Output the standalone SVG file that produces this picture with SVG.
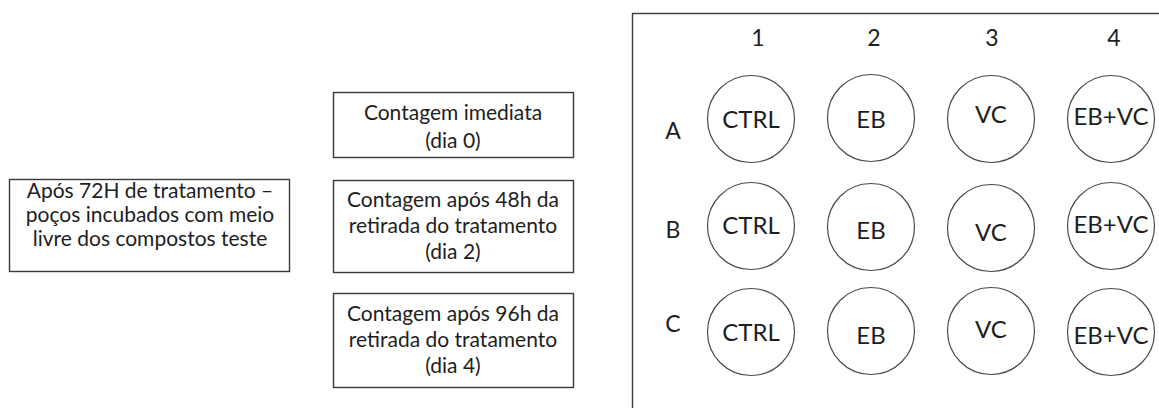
<svg xmlns="http://www.w3.org/2000/svg" width="1159" height="408" viewBox="0 0 1159 408">
<style>
  .box { fill: #ffffff; stroke: #3a3a3a; stroke-width: 1.4; }
  .well { fill: #ffffff; stroke: #4a4a4a; stroke-width: 1.2; }
  .t { font-family: Lato, "Liberation Sans", sans-serif; fill: #1e1e1e; text-anchor: middle; }
  .bt { font-size: 21px; }
  .pl { font-size: 23px; }
  .wt { font-size: 24px; }
</style>
<rect width="1159" height="408" fill="#ffffff"/>
<g id="treatment">
  <rect class="box" x="9.5" y="179.5" width="280" height="92"/>
  <text class="t bt" x="150" y="198">Após 72H de tratamento –</text>
  <text class="t bt" x="150" y="222">poços incubados com meio</text>
  <text class="t bt" x="150" y="246">livre dos compostos teste</text>
</g>
<g id="day0">
  <rect class="box" x="333.5" y="92.5" width="240" height="65"/>
  <text class="t bt" x="453" y="120">Contagem imediata</text>
  <text class="t bt" x="453" y="148">(dia 0)</text>
</g>
<g id="day2">
  <rect class="box" x="333.5" y="180.5" width="240" height="92"/>
  <text class="t bt" x="453" y="207">Contagem após 48h da</text>
  <text class="t bt" x="453" y="233">retirada do tratamento</text>
  <text class="t bt" x="453" y="259">(dia 2)</text>
</g>
<g id="day4">
  <rect class="box" x="333.5" y="293.5" width="240" height="94"/>
  <text class="t bt" x="453" y="321">Contagem após 96h da</text>
  <text class="t bt" x="453" y="347">retirada do tratamento</text>
  <text class="t bt" x="453" y="373">(dia 4)</text>
</g>
<g id="plate">
  <rect class="box" x="632.5" y="13.5" width="560" height="420"/>
  <text class="t pl" x="758" y="46">1</text>
  <text class="t pl" x="874" y="46">2</text>
  <text class="t pl" x="992" y="46">3</text>
  <text class="t pl" x="1114" y="46">4</text>
  <text class="t pl" x="673" y="139">A</text>
  <text class="t pl" x="673" y="238">B</text>
  <text class="t pl" x="673" y="332">C</text>
</g>
<g id="wellA1"><circle class="well" cx="751" cy="119" r="43.5"/><text class="t wt" x="751" y="128">CTRL</text></g>
<g id="wellA2"><circle class="well" cx="871" cy="118" r="43.5"/><text class="t wt" x="871" y="128">EB</text></g>
<g id="wellA3"><circle class="well" cx="991" cy="119" r="43.5"/><text class="t wt" x="991" y="123">VC</text></g>
<g id="wellA4"><circle class="well" cx="1111" cy="119" r="43.5"/><text class="t wt" x="1111" y="125">EB+VC</text></g>
<g id="wellB1"><circle class="well" cx="751" cy="226" r="43.5"/><text class="t wt" x="751" y="234">CTRL</text></g>
<g id="wellB2"><circle class="well" cx="871" cy="227" r="43.5"/><text class="t wt" x="871" y="239">EB</text></g>
<g id="wellB3"><circle class="well" cx="991" cy="228" r="43.5"/><text class="t wt" x="991" y="241">VC</text></g>
<g id="wellB4"><circle class="well" cx="1111" cy="226" r="43.5"/><text class="t wt" x="1111" y="233">EB+VC</text></g>
<g id="wellC1"><circle class="well" cx="751" cy="332" r="43.5"/><text class="t wt" x="751" y="341">CTRL</text></g>
<g id="wellC2"><circle class="well" cx="871" cy="331" r="43.5"/><text class="t wt" x="871" y="344">EB</text></g>
<g id="wellC3"><circle class="well" cx="991" cy="331" r="43.5"/><text class="t wt" x="991" y="338">VC</text></g>
<g id="wellC4"><circle class="well" cx="1111" cy="332" r="43.5"/><text class="t wt" x="1111" y="344">EB+VC</text></g>
<g id="connectors"></g>
</svg>
